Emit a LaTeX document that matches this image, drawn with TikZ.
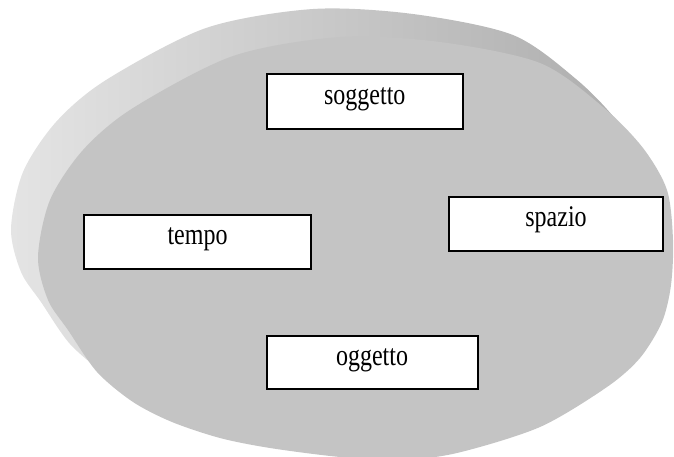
\documentclass[tikz,border=0pt]{standalone}
\usepackage{fontspec}
\newfontfamily\boxfont[FakeStretch=0.8]{Liberation Serif}

\definecolor{facegray}{RGB}{196,196,196}
\definecolor{rimlight}{RGB}{228,228,228}
\definecolor{rimdark}{RGB}{152,152,152}
\definecolor{rimright}{RGB}{172,172,172}

% outline of the disc face, in pixel units
\def\discface{plot[smooth cycle,tension=0.5] coordinates {
	(38,257) (48,300) (68,330) (97,372) (133,402) (172,422) (220,438)
	(270,448) (340,457) (400,460) (457,453) (540,427) (607,387) (640,358)
	(662,322) (671,285) (673,240) (667,190) (643,148) (603,107) (540,63)
	(440,42) (340,37) (233,56) (133,108) (83,150) (50,200)}}

\tikzset{
	label box/.style={draw=black,line width=2pt,fill=white,rectangle,
		inner sep=0pt,text height=16pt,text depth=11pt,
		font=\boxfont\fontsize{30}{30}\selectfont}
}

\begin{document}
\begin{tikzpicture}[x=1pt,y=-1pt]
	\useasboundingbox (0,0) rectangle (674,456);
	\begin{scope}
		\clip (0,0) rectangle (674,456);
		% the rim: same outline pushed back up and left
		\begin{scope}[shift={(-27,-28)}]
			\shade[left color=rimlight,middle color=rimdark,right color=rimright] \discface;
		\end{scope}
		\fill[facegray] \discface;
	\end{scope}

	\node[label box,minimum width=196pt,minimum height=55pt] (soggetto) at (364.75,101.5) {soggetto};
	\node[label box,minimum width=214pt,minimum height=54pt] (spazio) at (556,224) {spazio};
	\node[label box,minimum width=227pt,minimum height=54pt] (tempo) at (197.5,242) {tempo};
	\node[label box,minimum width=211pt,minimum height=53pt] (oggetto) at (372,362.5) {oggetto};
\end{tikzpicture}
\end{document}
